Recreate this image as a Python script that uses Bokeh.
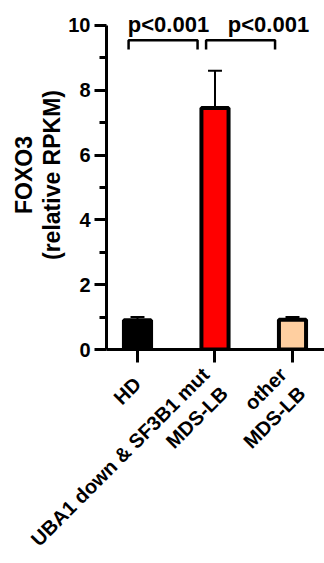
import math
from bokeh.plotting import figure
from bokeh.models import Range1d, FixedTicker, ColumnDataSource
from bokeh.embed import file_html
from bokeh.resources import INLINE
from bokeh.core.properties import value

# ---------------- data ----------------
categories = ["HD", "UBA1 down & SF3B1 mut\nMDS-LB", "other\nMDS-LB"]
means = [0.90, 7.45, 0.92]
errors = [0.10, 1.15, 0.08]
colors = ["#000000", "#FF0000", "#FFCFA0"]
y_ticks = [0, 2, 4, 6, 8, 10]
comparisons = [(0, 1), (1, 2)]
p_labels = ["p<0.001", "p<0.001"]

# ---------------- style ----------------
FONT = "Liberation Sans"
BAR_W = 0.35
CAP_HALF = 0.09
BRACKET_Y = 9.54
BRACKET_LEG = 0.28
BRACKET_L_OFF = -0.115
BRACKET_R_OFF = -0.225
P_TEXT_Y = 10.02
P_TEXT_OFF = [-0.1, 0.19]
X_RANGE = (-0.4, 2.413)
Y_RANGE = (0, 10.77)

xs = list(range(len(categories)))
tops = [m + e for m, e in zip(means, errors)]

p = figure(frame_width=218, frame_height=349,
           x_range=Range1d(*X_RANGE), y_range=Range1d(*Y_RANGE),
           output_backend="svg", toolbar_location=None,
           min_border_left=106, min_border_right=0,
           min_border_top=0, min_border_bottom=0)
p.outline_line_color = None
p.grid.grid_line_color = None

src = ColumnDataSource(dict(x=xs, mean=means, top=tops, color=colors,
                            cl=[x - CAP_HALF for x in xs], cr=[x + CAP_HALF for x in xs]))

# error bars (upper only)
p.segment(x0="x", y0="mean", x1="x", y1="top", source=src, line_color="black", line_width=2)
p.segment(x0="cl", y0="top", x1="cr", y1="top", source=src, line_color="black", line_width=2)

# bars
p.vbar(x="x", top="mean", width=BAR_W, bottom=0, source=src,
       fill_color="color", line_color="black", line_width=4)

# significance brackets
bx, by = [], []
for a, b in comparisons:
    l = a + BRACKET_L_OFF
    r = b + BRACKET_R_OFF
    bx.append([l, l, r, r])
    by.append([BRACKET_Y - BRACKET_LEG, BRACKET_Y, BRACKET_Y, BRACKET_Y - BRACKET_LEG])
p.multi_line(xs=bx, ys=by, line_color="black", line_width=2.5)

tx = [(a + b) / 2 + o for (a, b), o in zip(comparisons, P_TEXT_OFF)]
p.text(x=tx, y=[P_TEXT_Y] * len(tx), text=p_labels,
       text_font=value(FONT), text_font_style="bold", text_font_size="22px",
       text_align="center", text_baseline="middle", text_color="black")

# x axis
p.xaxis.ticker = FixedTicker(ticks=xs)
p.xaxis.major_label_overrides = {i: c for i, c in enumerate(categories)}
p.xaxis.major_label_orientation = math.pi / 4
p.xaxis.major_label_text_font = FONT
p.xaxis.major_label_text_font_style = "bold"
p.xaxis.major_label_text_font_size = "20px"
p.xaxis.major_label_standoff = 18
p.xaxis.major_tick_in = 0
p.xaxis.major_tick_out = 13
p.xaxis.major_tick_line_width = 3
p.xaxis.axis_line_width = 3

# y axis
minor = [(a + b) / 2 for a, b in zip(y_ticks[:-1], y_ticks[1:])]
p.yaxis.ticker = FixedTicker(ticks=y_ticks, minor_ticks=minor)
p.yaxis.bounds = (y_ticks[0], y_ticks[-1])
p.yaxis.major_label_text_font = FONT
p.yaxis.major_label_text_font_style = "bold"
p.yaxis.major_label_text_font_size = "20px"
p.yaxis.major_label_standoff = 4
p.yaxis.major_tick_in = 0
p.yaxis.major_tick_out = 12
p.yaxis.minor_tick_in = 0
p.yaxis.minor_tick_out = 7
p.yaxis.major_tick_line_width = 3
p.yaxis.minor_tick_line_width = 3
p.yaxis.axis_line_width = 3
p.yaxis.axis_label = "FOXO3\n(relative RPKM)"
p.yaxis.axis_label_text_font = FONT
p.yaxis.axis_label_text_font_style = "bold"
p.yaxis.axis_label_text_font_size = "23px"
p.yaxis.axis_label_text_line_height = 1.1
p.yaxis.axis_label_standoff = 0

for ax in (p.xaxis, p.yaxis):
    ax.axis_line_color = "black"
    ax.major_tick_line_color = "black"
    ax.minor_tick_line_color = "black"
    ax.major_label_text_color = "black"
    ax.axis_label_text_color = "black"
p.xaxis.minor_tick_line_color = None

open("out.html", "w").write(file_html(p, INLINE))
